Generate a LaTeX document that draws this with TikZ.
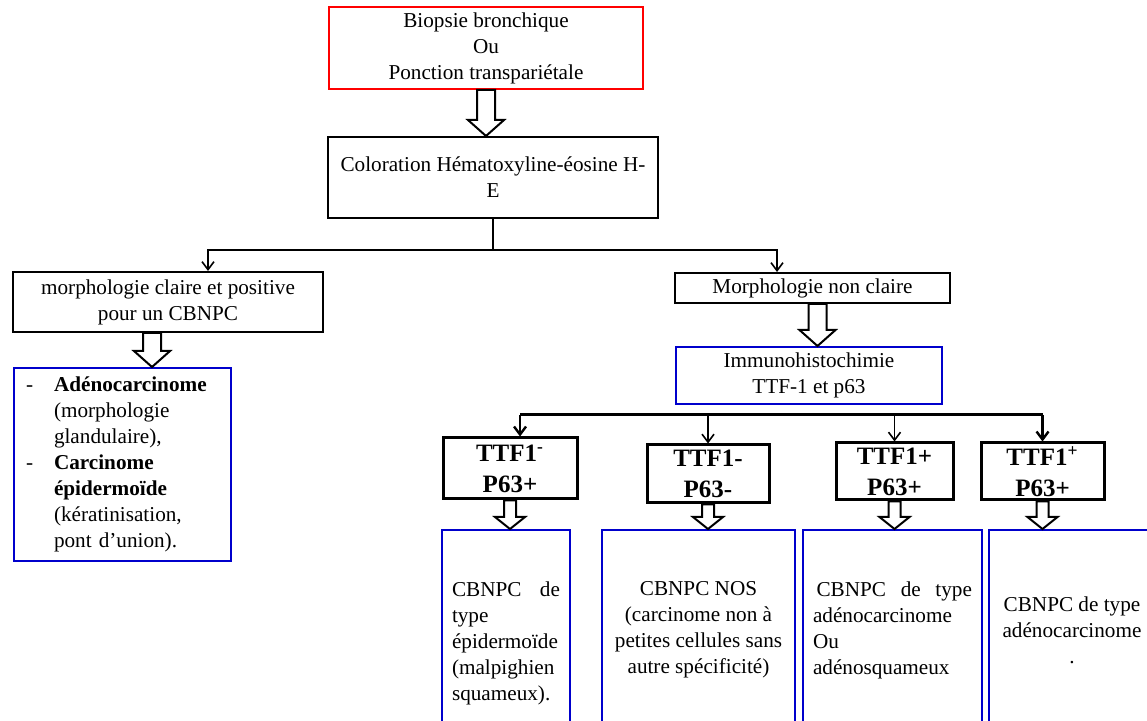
\documentclass[tikz,border=0pt]{standalone}
\usepackage{fontspec}
\setmainfont{Liberation Serif}
\usetikzlibrary{arrows.meta}
\usetikzlibrary{calc}

\definecolor{blueline}{RGB}{0,0,204}

\newcommand{\arrshaft}{4.5pt}
\newcommand{\arrhead}{9pt}
\newcommand{\arrtip}{8pt}
\newcommand{\blockarrow}[3][0pt]{%
  \draw[hollow] let \p1=([xshift=#1]#2.south), \p2=(#3.north) in
    ({\x1-\arrshaft},\y1) -- ({\x1-\arrshaft},{\y2+\arrtip}) -- ({\x1-\arrhead},{\y2+\arrtip})
    -- (\x1,\y2) -- ({\x1+\arrhead},{\y2+\arrtip}) -- ({\x1+\arrshaft},{\y2+\arrtip})
    -- ({\x1+\arrshaft},\y1) -- cycle;}

\begin{document}
\begin{tikzpicture}[x=0.5pt,y=-0.5pt,
  font=\fontsize{10.6}{13}\selectfont,
  box/.style={draw, line width=1pt, fill=white, align=center, inner sep=0pt},
  redbox/.style={box, draw=red},
  bluebox/.style={box, draw=blueline},
  ttfbox/.style={box, line width=1.5pt, font=\fontsize{12.5}{15.5}\selectfont\bfseries},
  link/.style={line width=0.8pt},
  linkarrow/.style={link, -{Straight Barb[length=4pt,width=6pt]}},
  hollow/.style={draw, line width=1pt, fill=white}]

\useasboundingbox (0,0) rectangle (1147,721);
\clip (0,0) rectangle (1147,721);

\node[redbox, minimum width=157pt, minimum height=41pt] (biopsie) at (486,48) {Biopsie bronchique\\Ou\\Ponction transpariétale};
\node[box, minimum width=165pt, minimum height=40.5pt] (hes) at (493,177.5) {Coloration Hématoxyline-éosine H-\\E};

\node[box, minimum width=155pt, minimum height=30pt] (claire) at (168,302) {morphologie claire et positive\\pour un CBNPC};
\node[bluebox, anchor=north west, text width=96.5pt, align=left, inner xsep=6pt, minimum height=96.5pt] (formes) at (13,367) {%
  \begin{tabular}{@{}p{14pt}@{}l@{}}
  -&\textbf{Adénocarcinome}\\
   &(morphologie\\
   &glandulaire),\\
  -&\textbf{Carcinome}\\
   &\textbf{épidermoïde}\\
   &(kératinisation,\\
   &pont d'union).
  \end{tabular}};

\node[box, minimum width=137.5pt, minimum height=15pt] (nonclaire) at (812.5,288) {Morphologie non claire};
\node[bluebox, minimum width=133pt, minimum height=28.5pt] (ihc) at (809,375.5) {Immunohistochimie\\TTF-1 et p63};

\node[ttfbox, minimum width=67pt, minimum height=30.5pt] (ttfa) at (510,468.5) {TTF1\textsuperscript{-}\\P63+};
\node[ttfbox, minimum width=61pt, minimum height=29pt] (ttfb) at (708,474) {TTF1-\\P63-};
\node[ttfbox, minimum width=58.5pt, minimum height=28.5pt] (ttfc) at (894.5,471.5) {TTF1+\\P63+};
\node[ttfbox, minimum width=61.5pt, minimum height=28.5pt] (ttfd) at (1042.5,471.5) {TTF1\textsuperscript{+}\\P63+};

\node[bluebox, anchor=north, text width=54pt, align=left, inner xsep=5pt, minimum height=113pt] (resa) at (506,529) {CBNPC\hfill de\\type\\épidermoïde\\(malpighien\\squameux).};
\node[bluebox, anchor=north, minimum width=96.5pt, minimum height=100pt] (resb) at (698.5,529) {CBNPC NOS\\(carcinome non à\\petites cellules sans\\autre spécificité)};
\node[bluebox, anchor=north, text width=79.5pt, align=left, inner xsep=5pt, minimum height=100pt] (resc) at (892.5,529) {\,CBNPC\hfill de\hfill type\\adénocarcinome\\Ou\\adénosquameux};
\node[bluebox, anchor=north, minimum width=83pt, minimum height=100pt] (resd) at (1072,529) {CBNPC de type\\adénocarcinome\\.};

\coordinate (split) at (493,250);
\draw[link] (hes) -- (split);
\draw[linkarrow] (split) -| ([xshift=20pt]claire.north);
\draw[linkarrow] (split) -| ([xshift=-17.75pt]nonclaire.north);

\coordinate (forkw) at (520,415);
\coordinate (forke) at (1043,415);
\draw[line width=1.5pt] (forkw) -- (forke);
\draw[linkarrow, line width=1.2pt] (forkw) -- ([xshift=5pt]ttfa.north);
\draw[linkarrow] (ttfb.north |- forkw) -- (ttfb.north);
\draw[linkarrow] (ttfc.north |- forkw) -- (ttfc.north);
\draw[linkarrow, line width=1.2pt] (ttfd.north |- forke) -- (ttfd.north);

\blockarrow{biopsie}{hes}
\blockarrow[-8pt]{claire}{formes}
\blockarrow[2.5pt]{nonclaire}{ihc}

\renewcommand{\arrshaft}{3pt}
\renewcommand{\arrhead}{7.5pt}
\renewcommand{\arrtip}{6pt}
\blockarrow{ttfa}{resa}
\blockarrow{ttfb}{resb}
\blockarrow{ttfc}{resc}
\blockarrow{ttfd}{resd}

\end{tikzpicture}
\end{document}
